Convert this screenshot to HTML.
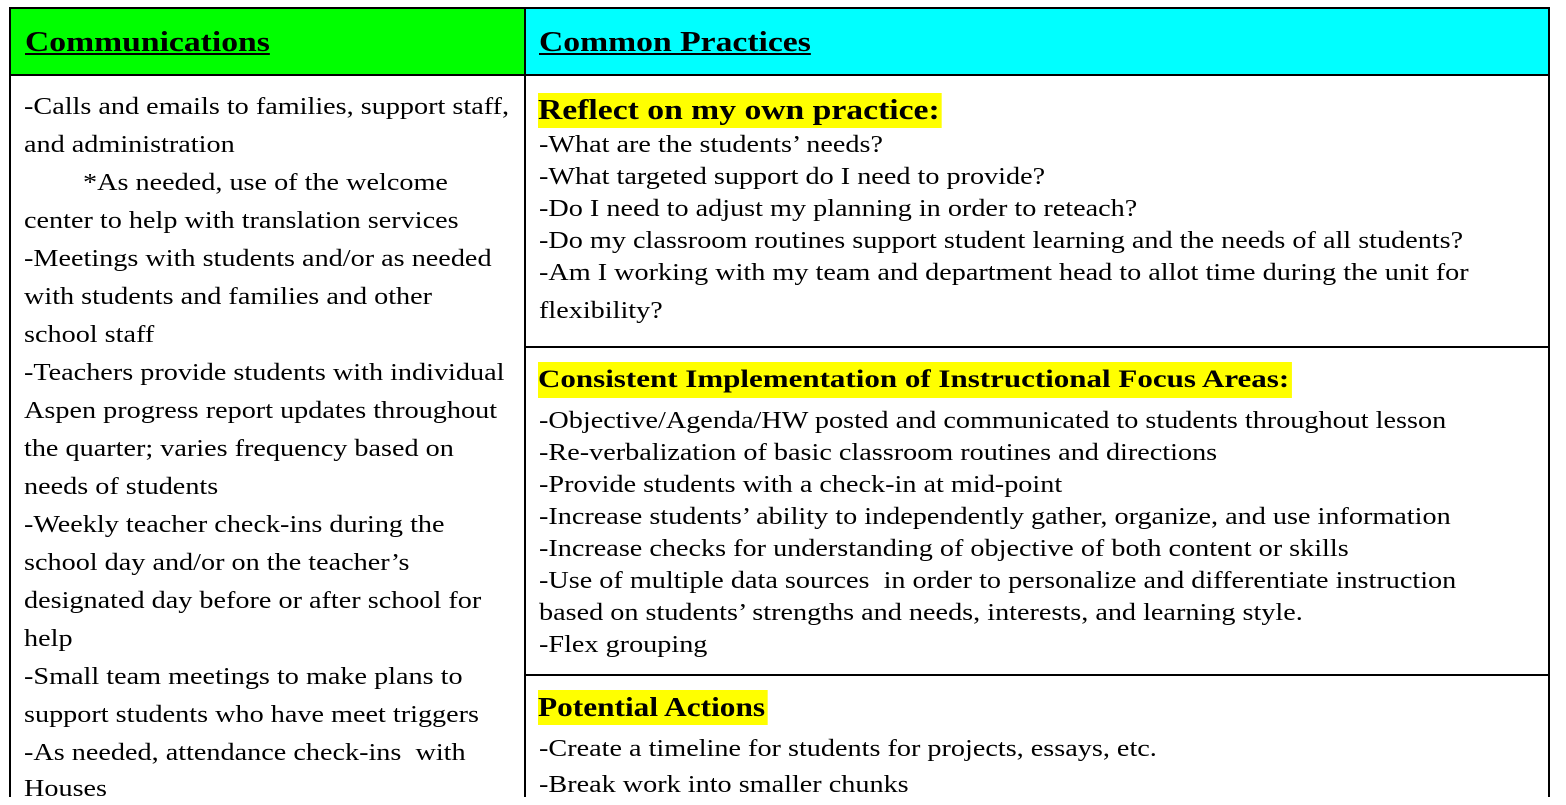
<!DOCTYPE html>
<html><head><meta charset="utf-8"><style>
body{margin:0;width:1566px;height:792px;overflow:hidden;background:#fff;font-family:"Liberation Serif",serif;color:#000;position:relative}
.b{position:absolute;background:#000}
.t{position:absolute;font-size:24px;line-height:32px;white-space:nowrap;transform:scaleX(1.175);transform-origin:0 0}
.h{position:absolute;font-weight:bold;white-space:nowrap;transform:scaleX(1.16);transform-origin:0 0}
.hl{background:#ffff00}
</style></head><body>
<div style="position:absolute;left:11px;top:9px;width:513px;height:65px;background:#00ff00"></div>
<div style="position:absolute;left:526px;top:9px;width:1022px;height:65px;background:#00ffff"></div>
<div class="b" style="left:9px;top:7px;width:1541px;height:2px"></div>
<div class="b" style="left:9px;top:74px;width:1541px;height:2px"></div>
<div class="b" style="left:9px;top:7px;width:2px;height:790px"></div>
<div class="b" style="left:524px;top:7px;width:2px;height:790px"></div>
<div class="b" style="left:1548px;top:7px;width:2px;height:790px"></div>
<div class="b" style="left:526px;top:346px;width:1022px;height:2px"></div>
<div class="b" style="left:526px;top:674px;width:1022px;height:2px"></div>
<div class="h" style="left:25px;top:26px;font-size:29px;text-decoration:underline">Communications</div>
<div class="h" style="left:539px;top:26px;font-size:29px;text-decoration:underline">Common Practices</div>
<div>
<div class="t" style="left:24px;top:91px">-Calls and emails to families, support staff,</div>
<div class="t" style="left:24px;top:129px">and administration</div>
<div class="t" style="left:83px;top:167px">*As needed, use of the welcome</div>
<div class="t" style="left:24px;top:205px">center to help with translation services</div>
<div class="t" style="left:24px;top:243px">-Meetings with students and/or as needed</div>
<div class="t" style="left:24px;top:281px">with students and families and other</div>
<div class="t" style="left:24px;top:319px">school staff</div>
<div class="t" style="left:24px;top:357px">-Teachers provide students with individual</div>
<div class="t" style="left:24px;top:395px">Aspen progress report updates throughout</div>
<div class="t" style="left:24px;top:433px">the quarter; varies frequency based on</div>
<div class="t" style="left:24px;top:471px">needs of students</div>
<div class="t" style="left:24px;top:509px">-Weekly teacher check-ins during the</div>
<div class="t" style="left:24px;top:547px">school day and/or on the teacher’s</div>
<div class="t" style="left:24px;top:585px">designated day before or after school for</div>
<div class="t" style="left:24px;top:623px">help</div>
<div class="t" style="left:24px;top:661px">-Small team meetings to make plans to</div>
<div class="t" style="left:24px;top:699px">support students who have meet triggers</div>
<div class="t" style="left:24px;top:737px">-As needed, attendance check-ins&nbsp; with</div>
<div class="t" style="left:24px;top:773px">Houses</div>
</div>
<div class="h hl" style="left:538px;top:93px;font-size:29px;line-height:35px;padding-right:2px">Reflect on my own practice:</div>
<div>
<div class="t" style="left:539px;top:129px">-What are the students’ needs?</div>
<div class="t" style="left:539px;top:161px">-What targeted support do I need to provide?</div>
<div class="t" style="left:539px;top:193px">-Do I need to adjust my planning in order to reteach?</div>
<div class="t" style="left:539px;top:225px">-Do my classroom routines support student learning and the needs of all students?</div>
<div class="t" style="left:539px;top:257px">-Am I working with my team and department head to allot time during the unit for</div>
<div class="t" style="left:539px;top:295px">flexibility?</div>
</div>
<div class="h hl" style="left:538px;top:362px;font-size:25px;line-height:36px;padding-right:2px;transform:scaleX(1.24)">Consistent Implementation of Instructional Focus Areas:</div>
<div>
<div class="t" style="left:539px;top:405px">-Objective/Agenda/HW posted and communicated to students throughout lesson</div>
<div class="t" style="left:539px;top:437px">-Re-verbalization of basic classroom routines and directions</div>
<div class="t" style="left:539px;top:469px">-Provide students with a check-in at mid-point</div>
<div class="t" style="left:539px;top:501px">-Increase students’ ability to independently gather, organize, and use information</div>
<div class="t" style="left:539px;top:533px">-Increase checks for understanding of objective of both content or skills</div>
<div class="t" style="left:539px;top:565px">-Use of multiple data sources&nbsp; in order to personalize and differentiate instruction</div>
<div class="t" style="left:539px;top:597px">based on students’ strengths and needs, interests, and learning style.</div>
<div class="t" style="left:539px;top:629px">-Flex grouping</div>
</div>
<div class="h hl" style="left:538px;top:690px;font-size:27px;line-height:35px;padding-right:2px">Potential Actions</div>
<div>
<div class="t" style="left:539px;top:733px">-Create a timeline for students for projects, essays, etc.</div>
<div class="t" style="left:539px;top:769px">-Break work into smaller chunks</div>
</div>
</body></html>
